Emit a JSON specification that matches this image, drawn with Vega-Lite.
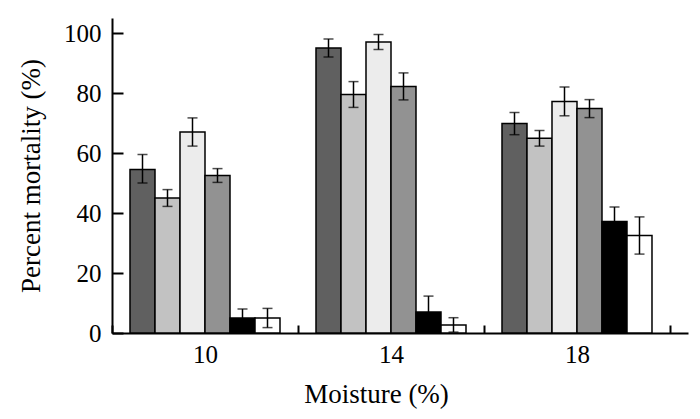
{
  "$schema": "https://vega.github.io/schema/vega-lite/v6.json",
  "width": 576,
  "height": 315,
  "autosize": {"type": "none"},
  "padding": {"left": 112, "top": 18, "right": 12, "bottom": 86},
  "background": "white",
  "config": {
    "view": {"stroke": null},
    "font": "Liberation Serif",
    "axis": {
      "domainColor": "black",
      "domainWidth": 2,
      "tickColor": "black",
      "tickWidth": 2,
      "labelFont": "Liberation Serif",
      "labelFontSize": 25,
      "labelColor": "black",
      "titleFont": "Liberation Serif",
      "titleFontSize": 27,
      "titleFontWeight": "normal",
      "titleColor": "black",
      "grid": false
    }
  },
  "data": {
    "values": [
      {"moisture": "10", "treatment": "T1", "value": 54.5, "lo": 50.0, "hi": 59.5},
      {"moisture": "10", "treatment": "T2", "value": 45.0, "lo": 42.2, "hi": 47.8},
      {"moisture": "10", "treatment": "T3", "value": 67.0, "lo": 62.3, "hi": 71.7},
      {"moisture": "10", "treatment": "T4", "value": 52.5, "lo": 50.2, "hi": 54.8},
      {"moisture": "10", "treatment": "T5", "value": 5.0, "lo": 2.0, "hi": 8.0},
      {"moisture": "10", "treatment": "T6", "value": 5.0, "lo": 1.8, "hi": 8.2},
      {"moisture": "14", "treatment": "T1", "value": 95.0, "lo": 92.0, "hi": 98.0},
      {"moisture": "14", "treatment": "T2", "value": 79.5, "lo": 75.2, "hi": 83.8},
      {"moisture": "14", "treatment": "T3", "value": 97.0, "lo": 94.5, "hi": 99.5},
      {"moisture": "14", "treatment": "T4", "value": 82.2, "lo": 77.7, "hi": 86.7},
      {"moisture": "14", "treatment": "T5", "value": 7.0, "lo": 1.7, "hi": 12.3},
      {"moisture": "14", "treatment": "T6", "value": 2.7, "lo": 0.3, "hi": 5.1},
      {"moisture": "18", "treatment": "T1", "value": 69.8, "lo": 66.1, "hi": 73.5},
      {"moisture": "18", "treatment": "T2", "value": 64.9, "lo": 62.3, "hi": 67.5},
      {"moisture": "18", "treatment": "T3", "value": 77.2, "lo": 72.4, "hi": 82.0},
      {"moisture": "18", "treatment": "T4", "value": 74.8, "lo": 71.8, "hi": 77.8},
      {"moisture": "18", "treatment": "T5", "value": 37.2, "lo": 32.4, "hi": 42.0},
      {"moisture": "18", "treatment": "T6", "value": 32.5, "lo": 26.3, "hi": 38.7}
    ]
  },
  "encoding": {
    "x": {
      "field": "moisture",
      "type": "nominal",
      "scale": {"type": "band", "paddingInner": 0, "paddingOuter": 0.0484, "align": 0},
      "axis": {
        "title": "Moisture (%)",
        "labelAngle": 0,
        "tickBand": "extent",
        "tickSize": -8,
        "labelPadding": 17,
        "titlePadding": 14,
        "titleX": 264
      }
    },
    "xOffset": {
      "field": "treatment",
      "type": "nominal",
      "scale": {"paddingInner": 0, "paddingOuter": 0.72}
    }
  },
  "layer": [
    {
      "mark": {"type": "bar", "stroke": "black", "strokeWidth": 1.5},
      "encoding": {
        "y": {
          "field": "value",
          "type": "quantitative",
          "scale": {"domain": [0, 105], "nice": false},
          "axis": {
            "title": "Percent mortality (%)",
            "values": [0, 20, 40, 60, 80, 100],
            "tickSize": -11,
            "labelPadding": 22,
            "titlePadding": 18
          }
        },
        "fill": {
          "field": "treatment",
          "type": "nominal",
          "scale": {
            "domain": ["T1", "T2", "T3", "T4", "T5", "T6"],
            "range": ["#606060", "#c2c2c2", "#ececec", "#929292", "#000000", "#ffffff"]
          },
          "legend": null
        }
      }
    },
    {
      "mark": {"type": "rule", "color": "black", "strokeWidth": 1.5},
      "encoding": {
        "y": {"field": "lo", "type": "quantitative"},
        "y2": {"field": "hi"}
      }
    },
    {
      "mark": {"type": "tick", "color": "black", "thickness": 1.5, "size": 10},
      "encoding": {
        "y": {"field": "lo", "type": "quantitative"}
      }
    },
    {
      "mark": {"type": "tick", "color": "black", "thickness": 1.5, "size": 10},
      "encoding": {
        "y": {"field": "hi", "type": "quantitative"}
      }
    }
  ]
}
